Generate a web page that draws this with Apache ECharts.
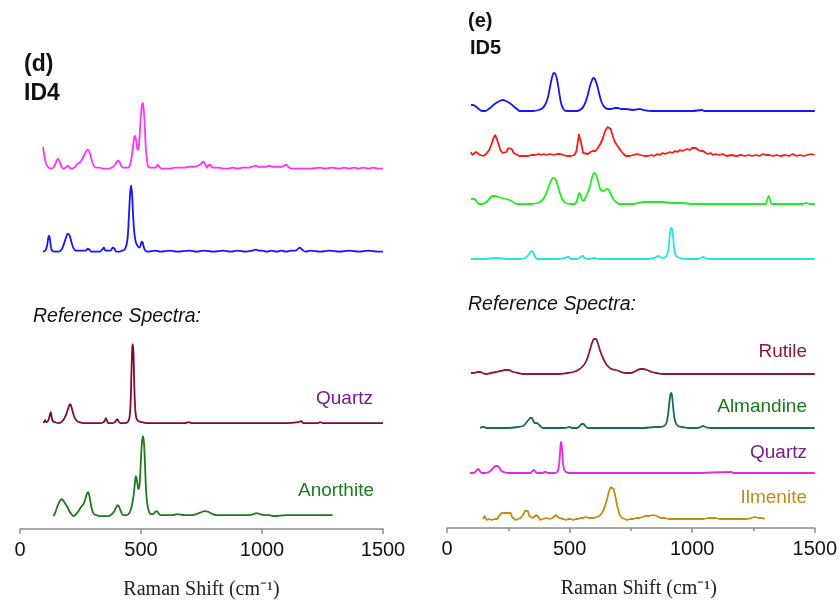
<!DOCTYPE html>
<html>
<head>
<meta charset="utf-8">
<script src="https://cdn.jsdelivr.net/npm/echarts@6/dist/echarts.min.js"></script>
<style>
  html, body { margin: 0; padding: 0; background: #fff; }
  #chart { width: 840px; height: 605px; }
</style>
</head>
<body>
<div id="chart"></div>
<script>
// x ticks of both panels (Raman shift, cm-1)
const xTicks = [0, 500, 1000, 1500]

// ---- panel (d) ID4: [shift, intensity above own baseline]
const id4Magenta = [[95,22],[100,14],[108,5],[118,1],[128,0],[140,2],[150,7],[157,10],[164,7],[172,2],[182,0],[192,2],[198,3],[205,1],[215,0],[228,2],[238,5],[246,6],[256,9],[266,14],[275,18],[281,19],[288,16],[296,9],[305,3],[315,1],[330,1],[345,0],[360,0],[378,1],[390,3],[400,7],[406,8],[413,6],[420,2],[430,1],[445,1],[455,4],[465,18],[471,30],[475,33],[480,28],[486,19],[490,20],[495,35],[500,55],[504,64],[507,66],[511,60],[516,40],[520,20],[525,8],[530,2],[540,1],[555,1],[564,2],[569,4],[575,2],[585,0],[600,0],[620,0],[640,1],[660,1],[680,1],[700,2],[720,2],[735,3],[748,5],[756,7],[762,6],[768,3],[773,1],[778,3],[785,4],[792,2],[800,1],[820,1],[840,0],[860,0],[880,1],[900,0],[920,1],[940,1],[960,2],[975,3],[985,2],[1000,2],[1015,2],[1030,3],[1045,2],[1060,2],[1080,2],[1092,3],[1100,4],[1108,2],[1120,0],[1140,0],[1170,0],[1200,0],[1240,1],[1260,0],[1290,1],[1320,0],[1340,1],[1360,0],[1380,1],[1400,0],[1420,1],[1440,0],[1460,1],[1480,0],[1500,0]]
const id4Blue = [[95,0],[105,1],[112,6],[117,14],[120,16],[124,12],[128,4],[133,1],[145,0],[160,0],[172,2],[182,8],[190,14],[198,18],[205,16],[212,10],[220,4],[230,1],[245,1],[260,1],[272,1],[280,3],[286,2],[295,0],[310,0],[330,0],[340,2],[347,4],[353,1],[365,1],[375,1],[383,4],[390,3],[398,0],[410,0],[425,1],[435,3],[444,12],[450,35],[455,58],[459,66],[463,58],[467,38],[472,20],[478,10],[485,6],[492,4],[498,6],[503,10],[507,9],[512,4],[518,1],[530,0],[560,1],[580,0],[620,1],[650,0],[700,1],[730,0],[760,1],[800,0],[840,1],[870,0],[900,1],[930,0],[960,1],[975,2],[985,1],[1000,1],[1020,0],[1040,1],[1060,0],[1080,1],[1100,0],[1120,1],[1140,1],[1150,3],[1157,4],[1165,2],[1180,0],[1200,1],[1240,0],[1280,1],[1320,0],[1360,1],[1400,0],[1440,1],[1480,0],[1500,0]]
const refQuartzD = [[95,1],[100,1],[104,3],[108,1],[115,2],[120,5],[124,9],[127,11],[131,6],[136,2],[145,1],[160,0],[175,2],[188,7],[198,14],[204,18],[208,19],[214,15],[222,8],[232,3],[245,1],[265,0],[300,0],[330,0],[345,1],[351,3],[355,5],[359,3],[365,0],[380,0],[392,1],[398,3],[402,4],[407,2],[415,0],[430,0],[445,1],[452,5],[457,20],[461,55],[464,76],[466,79],[469,70],[472,40],[476,15],[481,5],[490,2],[505,1],[530,0],[600,0],[680,0],[698,1],[710,0],[800,0],[900,0],[1000,0],[1100,0],[1150,1],[1161,2],[1172,0],[1230,0],[1240,1],[1255,0],[1350,0],[1500,0]]
const refAnorthite = [[138,0],[145,3],[152,8],[160,13],[168,16],[174,17],[180,15],[188,12],[196,9],[204,5],[212,2],[222,0],[232,2],[242,5],[252,9],[262,12],[270,17],[276,22],[281,24],[286,21],[292,13],[298,6],[305,2],[315,1],[330,0],[350,0],[365,0],[380,2],[390,5],[398,9],[404,11],[410,9],[418,4],[425,1],[440,1],[452,3],[462,10],[470,22],[476,36],[479,40],[483,36],[488,28],[491,27],[495,34],[500,58],[504,74],[508,80],[512,74],[516,55],[520,30],[525,14],[532,5],[540,2],[550,2],[558,4],[565,5],[572,3],[580,1],[600,1],[630,1],[650,2],[680,1],[710,1],[730,2],[750,4],[764,5],[780,4],[795,2],[810,1],[850,1],[900,1],[950,1],[965,2],[978,3],[990,2],[1010,1],[1030,1],[1050,0],[1100,1],[1150,1],[1200,1],[1250,1],[1292,1]]
const offsetsD = [361, 278, 106, 13]

// ---- panel (e) ID5
const id5Blue = [[98,6],[105,6],[115,5],[125,3],[135,1],[143,0],[155,0],[170,2],[185,5],[200,8],[215,10],[228,11],[240,10],[255,8],[270,5],[285,2],[298,0],[320,0],[350,0],[375,1],[390,3],[402,7],[412,14],[420,24],[428,33],[436,38],[442,37],[450,30],[458,18],[466,7],[475,2],[485,0],[505,0],[530,0],[548,2],[560,6],[572,14],[582,24],[590,30],[597,33],[603,32],[612,26],[622,16],[632,8],[642,4],[656,2],[670,2],[685,3],[697,3],[710,2],[730,2],[760,1],[787,2],[800,1],[836,0],[900,0],[1000,0],[1040,1],[1050,0],[1100,0],[1200,0],[1300,0],[1400,0],[1500,0]]
const id5Red = [[98,4],[103,1],[110,3],[118,4],[126,3],[135,1],[148,0],[160,2],[172,6],[182,12],[190,18],[196,21],[202,18],[210,12],[218,6],[226,3],[234,2],[242,4],[250,8],[257,10],[264,7],[272,3],[280,1],[295,0],[310,0],[330,0],[345,1],[360,1],[375,2],[385,1],[395,2],[405,1],[420,2],[435,1],[450,2],[462,2],[475,1],[488,0],[505,0],[520,1],[528,5],[534,15],[538,22],[542,24],[546,20],[550,10],[555,3],[562,1],[575,2],[585,4],[595,5],[605,5],[615,8],[625,12],[635,17],[645,25],[655,29],[661,30],[668,27],[676,20],[685,14],[693,11],[700,9],[710,5],[720,2],[730,0],[745,0],[760,1],[775,2],[790,1],[805,0],[820,0],[835,1],[845,0],[858,2],[868,1],[880,3],[890,2],[900,3],[910,4],[920,3],[930,5],[940,4],[950,6],[960,5],[970,6],[980,7],[990,6],[1000,8],[1008,7],[1015,8],[1025,6],[1035,5],[1045,5],[1055,3],[1065,2],[1075,3],[1085,1],[1095,2],[1110,1],[1125,2],[1140,0],[1160,1],[1180,0],[1200,1],[1215,0],[1230,1],[1245,0],[1260,1],[1275,0],[1290,2],[1300,1],[1315,1],[1330,0],[1345,1],[1360,0],[1380,1],[1395,0],[1410,2],[1425,0],[1440,1],[1455,0],[1470,1],[1485,2],[1500,1]]
const id5Green = [[98,5],[108,5],[118,4],[125,1],[135,0],[145,0],[155,1],[165,3],[175,6],[185,8],[195,8],[210,7],[225,6],[240,5],[255,4],[270,2],[285,0],[310,0],[340,0],[370,1],[385,3],[398,7],[410,14],[420,21],[428,25],[436,26],[444,24],[452,18],[462,10],[472,4],[485,1],[505,0],[520,0],[528,2],[535,8],[540,11],[545,9],[551,4],[556,3],[562,5],[572,10],[582,17],[590,25],[597,30],[603,31],[610,28],[618,21],[627,14],[636,13],[645,14],[652,15],[660,14],[668,10],[678,5],[690,2],[705,0],[725,0],[760,0],[780,1],[800,2],[840,2],[880,2],[920,1],[960,1],[1000,0],[1060,0],[1150,0],[1250,0],[1300,0],[1306,4],[1312,8],[1318,4],[1324,0],[1400,0],[1450,0],[1465,1],[1480,0],[1500,0]]
const id5Cyan = [[98,0],[150,0],[200,1],[250,0],[300,0],[320,1],[332,4],[340,7],[346,8],[352,6],[360,2],[370,0],[400,0],[450,0],[480,1],[490,2],[497,2],[505,0],[530,0],[545,2],[554,3],[562,1],[580,0],[600,1],[620,0],[700,0],[780,0],[820,0],[845,1],[855,2],[861,3],[868,2],[880,1],[895,3],[903,10],[909,24],[914,31],[918,30],[923,20],[928,8],[935,3],[950,1],[980,0],[1020,0],[1035,1],[1044,2],[1055,1],[1070,0],[1200,0],[1350,0],[1500,0]]
const refRutile = [[98,1],[110,1],[125,2],[135,2],[145,1],[160,0],[180,1],[200,2],[220,3],[236,4],[250,4],[270,2],[290,1],[310,0],[360,0],[420,0],[460,0],[490,1],[515,2],[535,4],[555,8],[570,14],[583,24],[593,32],[600,35],[607,35],[615,31],[625,23],[638,15],[652,9],[670,5],[690,4],[710,2],[730,1],[750,1],[770,3],[790,5],[800,5],[815,4],[835,2],[855,1],[880,0],[950,0],[1050,0],[1150,0],[1250,0],[1350,0],[1500,0]]
const refAlmandine = [[135,0],[145,1],[152,1],[160,0],[200,0],[250,0],[290,1],[310,2],[322,5],[332,8],[340,10],[346,10],[352,7],[358,5],[366,5],[372,4],[380,2],[392,0],[430,0],[480,0],[500,1],[510,0],[530,0],[542,2],[550,4],[556,4],[564,2],[575,0],[620,0],[700,0],[800,0],[850,1],[870,1],[885,2],[895,5],[902,14],[907,26],[911,33],[914,35],[918,32],[922,22],[927,11],[933,5],[942,2],[960,1],[990,0],[1020,0],[1035,1],[1044,2],[1055,1],[1075,0],[1200,0],[1350,0],[1500,0]]
const refQuartzE = [[94,0],[105,0],[115,1],[122,3],[128,4],[134,2],[142,0],[155,0],[170,1],[182,3],[192,6],[200,7],[206,7],[214,5],[222,2],[232,1],[250,0],[300,0],[340,0],[349,2],[355,3],[361,1],[370,0],[390,0],[398,1],[404,1],[410,0],[440,0],[452,2],[458,10],[462,24],[465,31],[468,28],[472,14],[477,4],[485,1],[500,0],[600,0],[800,0],[1000,0],[1160,1],[1170,0],[1300,0],[1500,0]]
const refIlmenite = [[147,1],[150,3],[153,4],[157,2],[162,0],[172,1],[182,0],[195,1],[205,1],[212,4],[218,6],[224,7],[230,6],[236,7],[242,6],[248,7],[254,6],[260,7],[265,3],[272,1],[280,0],[290,1],[300,2],[310,5],[318,9],[324,11],[330,9],[336,4],[342,2],[350,2],[358,3],[364,5],[368,5],[373,3],[380,0],[390,1],[398,0],[405,2],[412,1],[420,1],[430,2],[438,3],[444,5],[450,4],[458,2],[465,1],[475,1],[485,0],[495,1],[505,1],[515,0],[525,1],[535,1],[545,2],[555,2],[565,3],[572,3],[580,2],[590,2],[600,2],[610,3],[622,4],[632,7],[642,12],[652,20],[660,28],[668,33],[674,34],[680,31],[688,22],[696,12],[705,5],[714,2],[724,1],[735,0],[748,1],[760,1],[772,2],[785,2],[798,3],[808,4],[816,3],[824,4],[832,5],[840,5],[848,4],[856,4],[864,3],[872,2],[880,3],[888,2],[896,2],[904,1],[912,2],[920,1],[928,2],[936,1],[944,2],[952,1],[960,2],[968,1],[976,2],[984,1],[992,2],[1000,1],[1008,2],[1016,1],[1024,2],[1032,1],[1040,2],[1048,1],[1056,1],[1064,2],[1072,1],[1080,2],[1088,1],[1096,2],[1104,1],[1112,1],[1120,2],[1128,1],[1136,2],[1144,1],[1152,2],[1160,1],[1168,2],[1176,1],[1184,2],[1192,1],[1200,2],[1208,1],[1216,2],[1224,1],[1232,2],[1240,2],[1248,1],[1256,3],[1264,1],[1272,2],[1280,3],[1286,2],[1291,3],[1296,1]]
const offsetsE = [417, 372, 324, 269, 154, 100, 55, 8]

const spectraD = [id4Magenta, id4Blue, refQuartzD, refAnorthite]
const colorsD = ['#ff33ff', '#1515ff', '#80093c', '#1f7a1f']
const spectraE = [id5Blue, id5Red, id5Green, id5Cyan, refRutile, refAlmandine, refQuartzE, refIlmenite]
const colorsE = ['#1515ff', '#ff1a1a', '#22ee22', '#22e6e6', '#8a1748', '#1a6a60', '#e22ae2', '#c48a12']
const noisy = [refIlmenite, id5Red]

const chart = echarts.init(document.getElementById('chart'))

const axisGray = '#8c8c8c'
const tickFont = 'Liberation Sans, Arial, sans-serif'

function xAxisFor(gridIndex, minor, namePad) {
    return {
        gridIndex,
        type: 'value',
        min: xTicks[0],
        max: xTicks[xTicks.length - 1],
        interval: xTicks[1] - xTicks[0],
        name: 'Raman Shift (cm\u207B\u00B9)',
        nameLocation: 'middle',
        nameGap: 51,
        nameTextStyle: {
            fontFamily: 'Liberation Serif, Times New Roman, serif',
            fontSize: 20,
            color: '#222',
            padding: [0, 0, 0, namePad]
        },
        axisLine: { show: true, lineStyle: { color: axisGray, width: 1.5 } },
        axisTick: { show: true, length: 5, lineStyle: { color: axisGray, width: 1.5 } },
        minorTick: { show: minor, splitNumber: 2, length: 3, lineStyle: { color: axisGray, width: 1.5 } },
        splitLine: { show: false },
        axisLabel: {
            fontSize: 20, color: '#111', fontFamily: tickFont, margin: 11,
            formatter: v => String(v)
        }
    }
}

function buildSeries(list, offsets, colors, xIdx) {
    return list.map((spec, i) => ({
        type: 'line',
        xAxisIndex: xIdx,
        yAxisIndex: xIdx,
        showSymbol: false,
        smooth: noisy.includes(spec) ? false : 0.35,
        lineStyle: { color: colors[i], width: 1.8 },
        itemStyle: { color: colors[i] },
        data: spec.map(p => [p[0], p[1] + offsets[i]]),
        silent: true,
        animation: false
    }))
}

const textBase = { fontFamily: 'Liberation Sans, Arial, sans-serif' }
function label(text, x, y, color, opts = {}) {
    return {
        type: 'text',
        x, y,
        style: Object.assign({
            text,
            fill: color,
            fontSize: 19,
            align: 'right',
            verticalAlign: 'middle',
            ...textBase
        }, opts)
    }
}

const option = {
    backgroundColor: '#fff',
    animation: false,
    grid: [
        { left: 20, width: 363, top: 30, height: 500 },
        { left: 447, width: 368, top: 30, height: 498 }
    ],
    xAxis: [xAxisFor(0, false, 0), xAxisFor(1, true, 16)],
    yAxis: [
        { gridIndex: 0, type: 'value', min: 0, max: 500, show: false },
        { gridIndex: 1, type: 'value', min: 0, max: 498, show: false }
    ],
    series: [
        ...buildSeries(spectraD, offsetsD, colorsD, 0),
        ...buildSeries(spectraE, offsetsE, colorsE, 1)
    ],
    graphic: [
        label('(d)', 24, 65, '#111', { align: 'left', fontSize: 23, fontWeight: 'bold' }),
        label('ID4', 24, 94, '#111', { align: 'left', fontSize: 23, fontWeight: 'bold' }),
        label('(e)', 468, 21, '#111', { align: 'left', fontSize: 20, fontWeight: 'bold' }),
        label('ID5', 470, 48, '#111', { align: 'left', fontSize: 20, fontWeight: 'bold' }),
        label('Reference Spectra:', 33, 317, '#111', { align: 'left', fontSize: 19.5, fontStyle: 'italic' }),
        label('Reference Spectra:', 468, 305, '#111', { align: 'left', fontSize: 19.5, fontStyle: 'italic' }),
        label('Quartz', 373, 399, '#7d1a8e'),
        label('Anorthite', 374, 491, '#1e7a1e'),
        label('Rutile', 807, 352, '#8a1748'),
        label('Almandine', 807, 407, '#1a7a1a'),
        label('Quartz', 807, 453, '#7d1a8e'),
        label('Ilmenite', 807, 498, '#c48a12')
    ]
}

chart.setOption(option)
</script>
</body>
</html>
